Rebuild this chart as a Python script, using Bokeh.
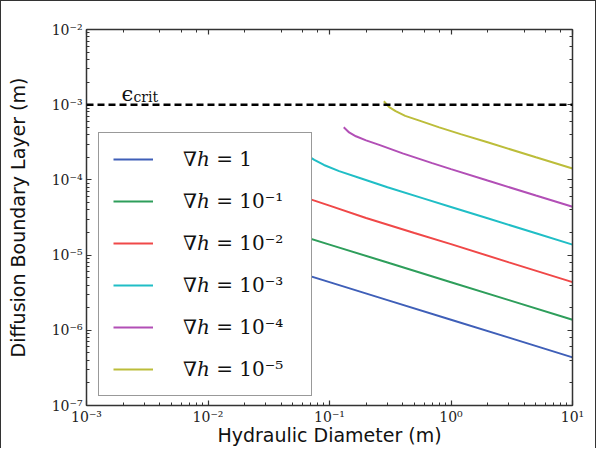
from bokeh.plotting import figure
from bokeh.models import LogAxis, Legend, LegendItem, Span, Label, CustomJSTickFormatter
from bokeh.embed import file_html
from bokeh.resources import INLINE

# ---- data ----
x_tick_values = [1e-3, 1e-2, 1e-1, 1e0, 1e1]
x_tick_labels = ["10⁻³", "10⁻²", "10⁻¹", "10⁰", "10¹"]
y_tick_values = [1e-7, 1e-6, 1e-5, 1e-4, 1e-3, 1e-2]
y_tick_labels = ["10⁻⁷", "10⁻⁶", "10⁻⁵", "10⁻⁴", "10⁻³", "10⁻²"]

legend_labels = ["∇ℎ = 1", "∇ℎ = 10⁻¹", "∇ℎ = 10⁻²", "∇ℎ = 10⁻³", "∇ℎ = 10⁻⁴", "∇ℎ = 10⁻⁵"]
colors = ["#3f5fb8", "#2e9e5b", "#f04848", "#20bec6", "#b24fb6", "#bcbd3a"]

x_h0 = [0.006, 0.0075, 0.012, 0.03, 0.1, 0.3, 1, 3, 10]
y_h0 = [2.3e-5, 1.77e-5, 1.31e-5, 7.98e-6, 4.37e-6, 2.52e-6, 1.38e-6, 7.98e-7, 4.37e-7]

x_h1 = [0.013, 0.016, 0.026, 0.05, 0.1, 0.3, 1, 3, 10]
y_h1 = [4.9e-5, 3.85e-5, 2.8e-5, 1.95e-5, 1.38e-5, 7.97e-6, 4.36e-6, 2.52e-6, 1.38e-6]

x_h2 = [0.028, 0.034, 0.05, 0.07, 0.1, 0.2, 0.5, 1, 3, 10]
y_h2 = [1.07e-4, 8.5e-5, 6.5e-5, 5.5e-5, 4.55e-5, 3.12e-5, 1.97e-5, 1.4e-5, 8.0e-6, 4.37e-6]

x_h3 = [0.06, 0.066, 0.075, 0.09, 0.12, 0.18, 0.3, 0.6, 1, 2, 5, 10]
y_h3 = [2.3e-4, 2.1e-4, 1.85e-4, 1.58e-4, 1.31e-4, 1.05e-4, 7.97e-5, 5.63e-5, 4.36e-5, 3.09e-5, 1.95e-5, 1.38e-5]

x_h4 = [0.131, 0.145, 0.165, 0.2, 0.26, 0.4, 0.7, 1, 2, 5, 10]
y_h4 = [5.0e-4, 4.28e-4, 3.8e-4, 3.35e-4, 2.9e-4, 2.25e-4, 1.67e-4, 1.39e-4, 9.8e-5, 6.2e-5, 4.4e-5]

x_h5 = [0.28, 0.31, 0.35, 0.42, 0.55, 0.8, 1.2, 2, 5, 10]
y_h5 = [1.11e-3, 9.3e-4, 8.2e-4, 7.1e-4, 6.15e-4, 5.0e-4, 4.06e-4, 3.16e-4, 2.0e-4, 1.42e-4]

series_x = [x_h0, x_h1, x_h2, x_h3, x_h4, x_h5]
series_y = [y_h0, y_h1, y_h2, y_h3, y_h4, y_h5]

eps_crit = 1e-3
eps_label_x = 1.94e-3

# ---- figure ----
p = figure(x_axis_type="log", y_axis_type="log",
           x_range=(1e-3, 10), y_range=(1e-7, 1e-2),
           frame_width=486, frame_height=376,
           min_border_left=85, min_border_right=23, min_border_top=28, min_border_bottom=38,
           output_backend="svg", toolbar_location=None)
p.styles = {"border-left": "1px solid #333", "border-top": "1px solid #333",
            "border-right": "1px solid #333"}
p.xgrid.visible = False
p.ygrid.visible = False
p.outline_line_color = None
p.background_fill_color = "white"
p.border_fill_color = "white"

bottom_ax = p.below[0]
left_ax = p.left[0]

fmt_code = """
for (let i = 0; i < tv.length; i++) {
  if (Math.abs(Math.log10(tv[i]) - Math.log10(tick)) < 1e-6) { return labels[i]; }
}
return "";
"""
bottom_ax.formatter = CustomJSTickFormatter(args=dict(tv=x_tick_values, labels=x_tick_labels), code=fmt_code)
left_ax.formatter = CustomJSTickFormatter(args=dict(tv=y_tick_values, labels=y_tick_labels), code=fmt_code)

right_ax = LogAxis(formatter=CustomJSTickFormatter(code="return '';"))
top_ax = LogAxis(formatter=CustomJSTickFormatter(code="return '';"))
p.add_layout(right_ax, "right")
p.add_layout(top_ax, "above")

for ax in [bottom_ax, left_ax, right_ax, top_ax]:
    ax.axis_line_color = "#333333"
    ax.axis_line_width = 1.5
    ax.major_tick_in = 5
    ax.major_tick_out = 0
    ax.minor_tick_in = 3
    ax.minor_tick_out = 0
    ax.major_tick_line_color = "#333333"
    ax.minor_tick_line_color = "#333333"
    ax.major_tick_line_width = 1.2
    ax.minor_tick_line_width = 1
    ax.major_label_text_font = "DejaVu Serif"
    ax.major_label_text_font_size = "14px"
    ax.major_label_text_color = "#222222"
    ax.major_label_standoff = 4
right_ax.major_label_standoff = 0
top_ax.major_label_standoff = 0
bottom_ax.major_label_standoff = 3

bottom_ax.axis_label = "Hydraulic Diameter (m)"
left_ax.axis_label = "Diffusion Boundary Layer (m)"
for ax in [bottom_ax, left_ax]:
    ax.axis_label_text_font = "DejaVu Sans"
    ax.axis_label_text_font_size = "19px"
    ax.axis_label_text_font_style = "normal"
    ax.axis_label_text_color = "#111111"
bottom_ax.axis_label_standoff = -4
left_ax.axis_label_standoff = 20

# critical line and label
p.add_layout(Span(location=eps_crit, dimension="width", line_color="black",
                  line_width=2.5, line_dash="7 4"))
p.add_layout(Label(x=eps_label_x, y=eps_crit, y_offset=11, text="ϵ",
                   text_font="DejaVu Serif", text_font_size="21px",
                   text_baseline="alphabetic", text_color="#111111"))
p.add_layout(Label(x=eps_label_x, y=eps_crit, x_offset=12, y_offset=8, text="crit",
                   text_font="DejaVu Serif", text_font_size="14px",
                   text_baseline="alphabetic", text_color="#111111"))

items = []
for xs, ys, c, lab in zip(series_x, series_y, colors, legend_labels):
    r = p.line(xs, ys, line_color=c, line_width=2)
    items.append(LegendItem(label=lab, renderers=[r]))

legend = Legend(items=items, location=(12, 9),
                label_text_font="DejaVu Serif", label_text_font_size="20px",
                label_text_color="#111111",
                glyph_width=40, glyph_height=24, label_height=24, label_width=114,
                label_standoff=30, spacing=18, padding=14, margin=0,
                border_line_color="#333333", border_line_width=1.5,
                background_fill_color="white", background_fill_alpha=1.0)
p.add_layout(legend)

open("out.html", "w").write(file_html(p, INLINE))
